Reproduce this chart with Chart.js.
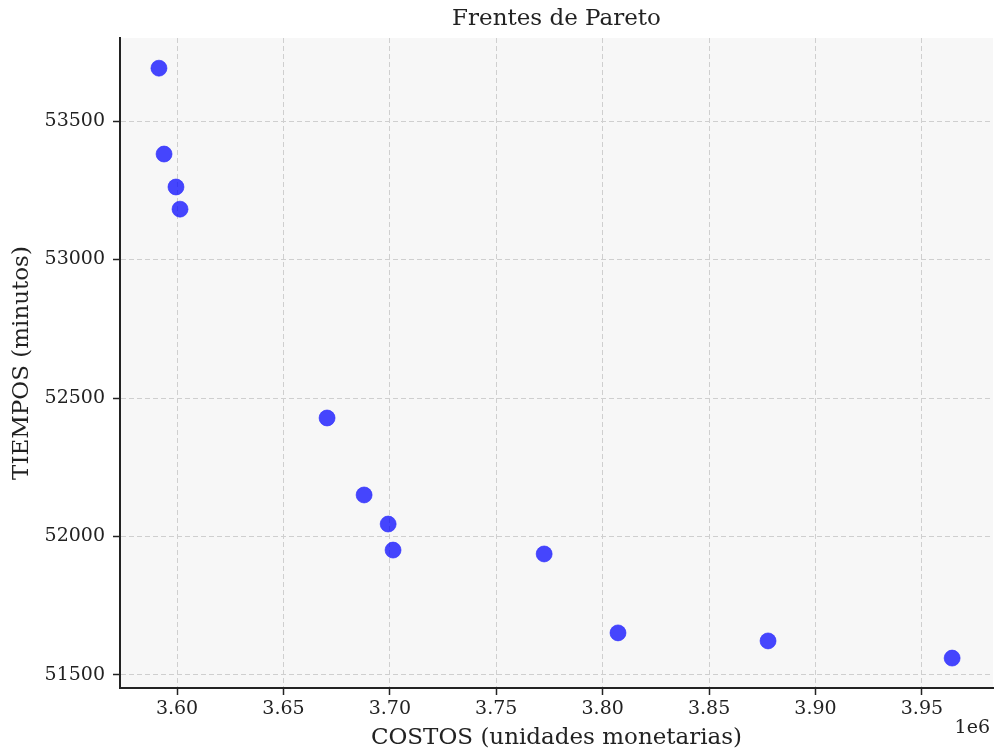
<!DOCTYPE html>
<html>
<head>
<meta charset="utf-8">
<script src="https://cdn.jsdelivr.net/npm/chart.js@4"></script>
<style>
  html, body { margin: 0; padding: 0; background: #fff; }
  #wrap { width: 996px; height: 752px; }
</style>
</head>
<body>
<div id="wrap"><canvas id="paretoChart" width="996" height="752"></canvas></div>
<script>
// datos del frente de Pareto
const costos = [3591500, 3593900, 3599500, 3601400, 3670500, 3687900, 3699200, 3701500, 3772500, 3807200, 3877700, 3964200];
const tiempos = [53691, 53381, 53262, 53182, 52428, 52150, 52045, 51951, 51937, 51652, 51623, 51561];

const xTicks = [3600000, 3650000, 3700000, 3750000, 3800000, 3850000, 3900000, 3950000];
const yTicks = [51500, 52000, 52500, 53000, 53500];

const serif = "'DejaVu Serif', serif";

const fondoPlot = {
    id: 'fondoPlot',
    beforeDraw(chart) {
        const { ctx, chartArea: a } = chart;
        ctx.save();
        ctx.fillStyle = '#f7f7f7';
        ctx.fillRect(a.left, a.top, a.right - a.left, a.bottom - a.top);
        ctx.restore();
    },
    afterDraw(chart) {
        const { ctx, chartArea: a } = chart;
        ctx.save();
        ctx.fillStyle = '#222';
        ctx.font = '23px ' + serif;
        ctx.textAlign = 'center';
        ctx.textBaseline = 'middle';
        ctx.fillText('Frentes de Pareto', (a.left + a.right) / 2, 19);
        ctx.font = '19px ' + serif;
        ctx.textAlign = 'right';
        ctx.fillText('1e6', 990, 728);
        ctx.restore();
    }
};

const ctx = document.getElementById('paretoChart');

new Chart(ctx, {
    type: 'scatter',
    data: {
        datasets: [{
            label: 'Frente',
            data: costos.map((c, i) => ({ x: c, y: tiempos[i] })),
            backgroundColor: 'rgba(0, 0, 255, 0.72)',
            borderColor: 'rgba(40, 40, 255, 0.6)',
            borderWidth: 1,
            pointRadius: 8,
            pointHoverRadius: 8
        }]
    },
    options: {
        responsive: false,
        animation: false,
        events: [],
        layout: { autoPadding: false, padding: { top: 38, right: 3, left: 0, bottom: 0 } },
        plugins: {
            legend: { display: false },
            tooltip: { enabled: false }
        },
        scales: {
            x: {
                type: 'linear',
                min: 3573200,
                max: 3983400,
                afterBuildTicks: s => { s.ticks = xTicks.map(v => ({ value: v })); },
                afterFit: s => { s.height = 64; },
                grid: {
                    color: '#cfcfcf',
                    lineWidth: 1,
                    tickLength: 7,
                    tickColor: '#222',
                    tickWidth: 1.5,
                    tickBorderDash: []
                },
                border: { display: true, color: '#222', width: 2, dash: [5, 3] },
                ticks: {
                    color: '#222',
                    font: { family: serif, size: 19 },
                    padding: 3,
                    maxRotation: 0,
                    autoSkip: false,
                    callback: v => (v / 1e6).toFixed(2)
                },
                title: {
                    display: true,
                    text: 'COSTOS (unidades monetarias)',
                    color: '#222',
                    font: { family: serif, size: 23 },
                    padding: { top: 0, bottom: 0 }
                }
            },
            y: {
                type: 'linear',
                min: 51453,
                max: 53800,
                afterBuildTicks: s => { s.ticks = yTicks.map(v => ({ value: v })); },
                afterFit: s => { s.width = 120; },
                grid: {
                    color: '#cfcfcf',
                    lineWidth: 1,
                    tickLength: 7,
                    tickColor: '#222',
                    tickWidth: 1.5,
                    tickBorderDash: []
                },
                border: { display: true, color: '#222', width: 2, dash: [5, 3] },
                ticks: {
                    color: '#222',
                    font: { family: serif, size: 19 },
                    padding: 8,
                    autoSkip: false,
                    callback: v => String(v)
                },
                title: {
                    display: true,
                    text: 'TIEMPOS (minutos)',
                    color: '#222',
                    font: { family: serif, size: 23 },
                    padding: { top: 8, bottom: 0 }
                }
            }
        }
    },
    plugins: [fondoPlot]
});
</script>
</body>
</html>
